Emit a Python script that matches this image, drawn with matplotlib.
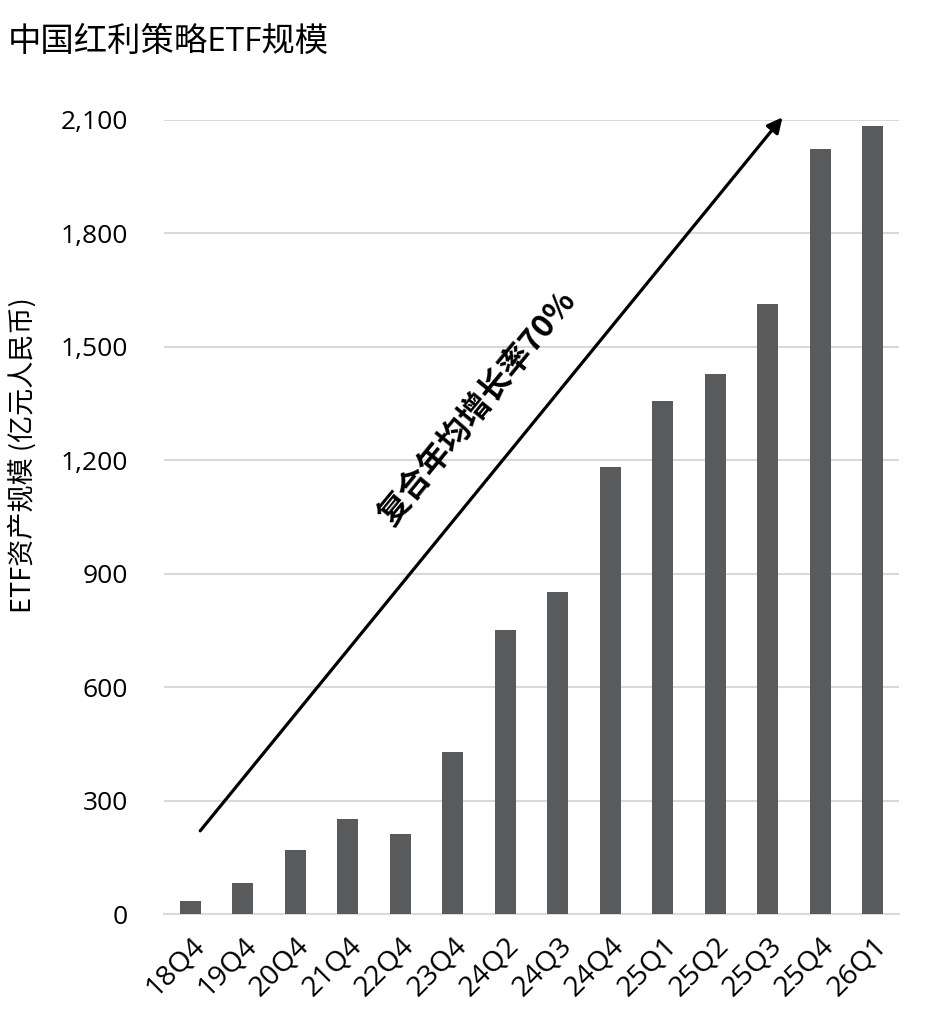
import matplotlib
matplotlib.use('Agg')
import matplotlib.pyplot as plt
import numpy as np

plt.rcParams['font.family'] = ['Open Sans', 'Noto Sans CJK SC', 'DejaVu Sans']

# data
quarters = ['18Q4', '19Q4', '20Q4', '21Q4', '22Q4', '23Q4', '24Q2', '24Q3',
            '24Q4', '25Q1', '25Q2', '25Q3', '25Q4', '26Q1']
etf_size = [35, 82, 168, 251, 212, 429, 752, 852, 1183, 1357, 1428, 1613, 2022, 2083]
y_ticks = [0, 300, 600, 900, 1200, 1500, 1800, 2100]

title = '中国红利策略ETF规模'
y_label = 'ETF资产规模 (亿元人民币)'
cagr_text = '复合年均增长率70%'
arrow_start = (0.19, 220)
arrow_end = (11.28, 2107)
text_pos = (5.47, 1339)

bar_color = '#595A5C'
grid_color = '#D9D9D9'

fig = plt.figure(figsize=(9.41, 10.21), dpi=100)
ax = fig.add_axes([164 / 941, 1 - 914 / 1021, (899 - 164) / 941, (914 - 120) / 1021])

x = np.arange(len(quarters))
ax.bar(x, etf_size, width=0.4, color=bar_color, zorder=3)

ax.set_xlim(-0.5, len(quarters) - 0.5)
ax.set_ylim(0, 2100)
ax.set_yticks(y_ticks)
ax.set_yticklabels([f'{v:,}' for v in y_ticks])
ax.yaxis.grid(True, color=grid_color, linewidth=1.5, zorder=0)
ax.set_axisbelow(True)

for s in ['top', 'right', 'left']:
    ax.spines[s].set_visible(False)
ax.spines['bottom'].set_color(grid_color)
ax.spines['bottom'].set_linewidth(1.5)

ax.tick_params(axis='y', length=0, pad=26, labelsize=19, colors='black')
ax.tick_params(axis='x', length=0, pad=13, labelsize=20.5, colors='black')
ax.set_xticks(x)
ax.set_xticklabels(quarters, rotation=45, ha='right', rotation_mode='anchor')

# y label, centred a bit above the middle like the original
# (label coords anchor its right edge)
ax.set_ylabel(y_label, fontsize=19.5, family=['Noto Sans CJK SC', 'DejaVu Sans'])
ax.yaxis.set_label_coords(-(164 - 37) / 735, (914 - 455) / 794)

fig.text(8 / 941, 1 - 42 / 1021, title, fontsize=24, va='center', ha='left')

# growth arrow
ax.annotate('', xy=arrow_end, xytext=arrow_start,
            arrowprops=dict(arrowstyle='-|>,head_length=0.9,head_width=0.45',
                            color='black', lw=2.3, shrinkA=0, shrinkB=0),
            annotation_clip=False, zorder=5)
ax.text(text_pos[0], text_pos[1], cagr_text, fontsize=23, fontweight='bold',
        rotation=50.7, ha='center', va='center', rotation_mode='anchor',
        family=['Noto Sans CJK SC', 'DejaVu Sans'], zorder=5)

fig.savefig('out.png', dpi=100)
